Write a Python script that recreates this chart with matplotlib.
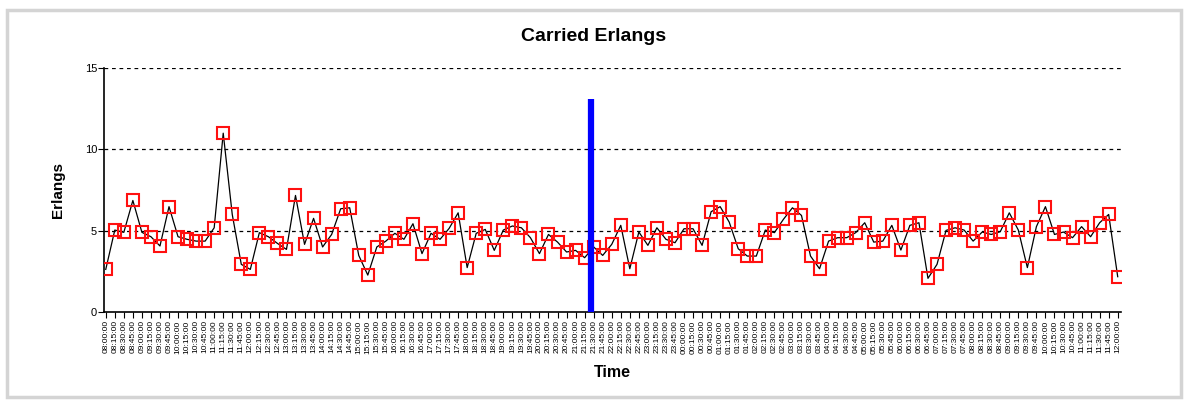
import matplotlib
matplotlib.use("Agg")
import matplotlib.pyplot as plt
from matplotlib.patches import Rectangle

plt.rcParams['font.family'] = ['Liberation Sans', 'DejaVu Sans']

# carried erlangs per time slot
erlangs = [
    2.62, 5.04, 4.90, 6.86, 4.90, 4.63, 4.06, 6.48, 4.63, 4.47,
    4.36, 4.36, 5.18, 11.0, 6.00, 2.93, 2.62, 4.88, 4.63, 4.22,
    3.85, 7.17, 4.16, 5.76, 4.00, 4.77, 6.35, 6.41, 3.48, 2.27,
    4.00, 4.36, 4.84, 4.47, 5.43, 3.59, 4.84, 4.47, 5.14, 6.10,
    2.73, 4.84, 5.08, 3.79, 5.04, 5.29, 5.18, 4.57, 3.59, 4.77,
    4.30, 3.69, 3.79, 3.34, 4.00, 3.48, 4.16, 5.33, 2.66, 4.92,
    4.10, 5.18, 4.47, 4.26, 5.12, 5.12, 4.10, 6.17, 6.48, 5.53,
    3.89, 3.44, 3.44, 5.04, 4.88, 5.70, 6.41, 5.94, 3.44, 2.66,
    4.36, 4.57, 4.57, 4.88, 5.49, 4.30, 4.36, 5.33, 3.81, 5.33,
    5.49, 2.07, 2.93, 5.02, 5.18, 5.04, 4.36, 4.92, 4.77, 4.94,
    6.10, 5.04, 2.73, 5.25, 6.48, 4.77, 4.92, 4.57, 5.25, 4.63,
    5.49, 6.00, 2.17,
]
slots = list(range(len(erlangs)))
time_labels = ['%02d:%02d:00' % ((8 + i * 15 // 60) % 24, i * 15 % 60) for i in slots]
y_ticks = [0, 5, 10, 15]

# current-time cursor (blue bar)
cursor_slot = 53.7
cursor_top = 13.1

fig = plt.figure(figsize=(11.88, 4.01), dpi=100)
ax = fig.add_axes([0.0875, 0.222, 0.856, 0.608])

ax.plot(slots, erlangs, color='black', lw=0.9, zorder=2)
ax.plot(slots, erlangs, ls='none', marker='s', ms=9, mfc='none',
        mec='#ff1010', mew=1.5, zorder=3)
ax.vlines(cursor_slot, 0, cursor_top, color='#0000ff', lw=4.5, zorder=4)

ax.set_xlim(-0.2, 112.35)
ax.set_ylim(0, 15)
ax.set_yticks(y_ticks)
ax.set_yticklabels([str(v) for v in y_ticks], fontsize=8)
ax.set_xticks(slots)
ax.set_xticklabels(time_labels, rotation=90, fontsize=6)
ax.tick_params(axis='x', length=4, width=0.8, pad=2)
ax.tick_params(axis='y', length=4, width=0.8, pad=1)

for v in y_ticks[1:]:
    ax.axhline(v, color='black', ls=(0, (3, 3)), lw=0.9, zorder=1)

ax.spines['top'].set_visible(False)
ax.spines['right'].set_visible(False)
ax.spines['left'].set_linewidth(1.2)
ax.spines['bottom'].set_linewidth(1.2)

ax.set_ylabel('Erlangs', fontsize=11, fontweight='bold', labelpad=14)
ax.set_xlabel('Time', fontsize=11.5, fontweight='bold', labelpad=8)
fig.text(0.5, 0.908, 'Carried Erlangs', ha='center', va='center',
         fontsize=14, fontweight='bold')

fig.patches.append(Rectangle((0.006, 0.01), 0.988, 0.965, transform=fig.transFigure,
                             fill=False, ec='#d4d4d4', lw=2.5))

fig.savefig('out.png', dpi=100)
